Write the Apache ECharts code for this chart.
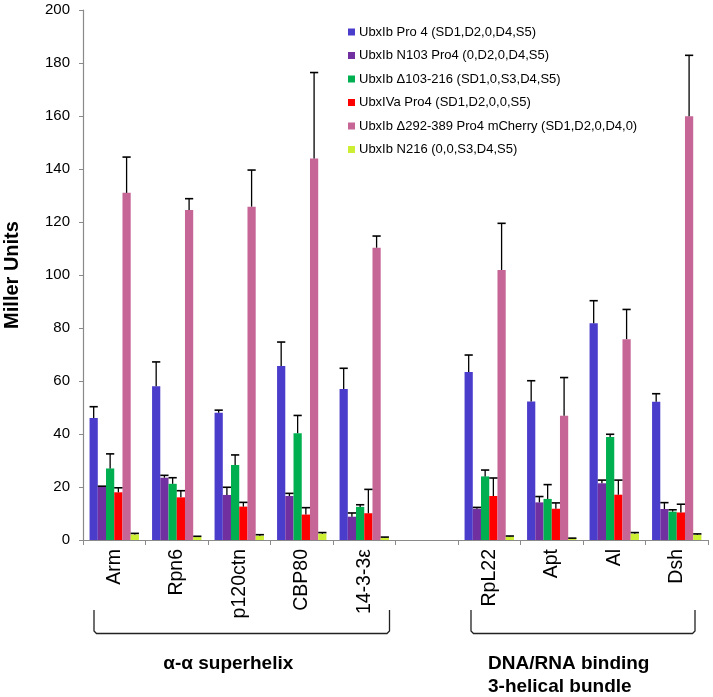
<!DOCTYPE html>
<html>
<head>
<meta charset="utf-8">
<script src="https://cdn.jsdelivr.net/npm/echarts@6/dist/echarts.min.js"></script>
<style>
html,body{margin:0;padding:0;background:#fff;}
#chart{width:713px;height:697px;}
</style>
</head>
<body>
<div id="chart"></div>
<script>
// ---- Data ----
const categories = ['Arm', 'Rpn6', 'p120ctn', 'CBP80', '14-3-3ε', '', 'RpL22', 'Apt', 'Al', 'Dsh'];
const seriesNames = [
  'UbxIb Pro 4 (SD1,D2,0,D4,S5)',
  'UbxIb N103 Pro4 (0,D2,0,D4,S5)',
  'UbxIb Δ103-216 (SD1,0,S3,D4,S5)',
  'UbxIVa Pro4 (SD1,D2,0,0,S5)',
  'UbxIb Δ292-389 Pro4 mCherry (SD1,D2,0,D4,0)',
  'UbxIb N216 (0,0,S3,D4,S5)'
];
const seriesColors = ['#4B3DCB', '#7030A0', '#00B050', '#FF0000', '#C66697', '#CCEE33'];

const pro4      = [46.0, 58.0, 48.0, 65.7, 57.0, null, 63.4, 52.3, 81.8, 52.2];
const n103      = [20.0, 23.5, 17.0, 16.6, 8.8, null, 11.8, 14.2, 21.4, 11.7];
const d103      = [27.0, 21.2, 28.3, 40.3, 12.5, null, 24.0, 15.5, 38.9, 10.7];
const ivaPro4   = [18.0, 16.1, 12.6, 9.6, 10.1, null, 16.6, 11.8, 17.1, 10.4];
const d292      = [131.0, 124.5, 125.8, 144.0, 110.3, null, 101.9, 46.9, 75.8, 159.9];
const n216      = [2.1, 1.1, 1.6, 2.4, 0.9, null, 1.3, 0.6, 2.4, 2.0];

const pro4Err    = [4.3, 9.2, 1.0, 9.0, 7.8, null, 6.4, 7.8, 8.5, 3.0];
const n103Err    = [0.3, 0.9, 2.9, 1.0, 1.4, null, 0.5, 2.2, 1.2, 2.4];
const d103Err    = [5.5, 2.3, 3.8, 6.7, 0.8, null, 2.4, 5.4, 1.0, 0.7];
const ivaPro4Err = [1.7, 2.5, 1.6, 2.6, 9.0, null, 6.8, 2.2, 5.5, 3.1];
const d292Err    = [13.5, 4.3, 13.8, 32.4, 4.4, null, 17.6, 14.4, 11.2, 23.0];
const n216Err    = [0.4, 0.3, 0.4, 0.4, 0.2, null, 0.2, 0.1, 0.4, 0.3];

const yTicks = { min: 0, max: 200, interval: 20 };
const groupLabels = ['α-α superhelix', 'DNA/RNA binding\n3-helical bundle'];

// ---- Chart ----
const values = [pro4, n103, d103, ivaPro4, d292, n216];
const errors = [pro4Err, n103Err, d103Err, ivaPro4Err, d292Err, n216Err];
const GAP = 0.21;
const FONT = '"Liberation Sans", Arial, sans-serif';

const errData = [];
values.forEach((arr, s) => {
  arr.forEach((v, c) => {
    if (v != null && errors[s][c] != null) errData.push([c, s, v, errors[s][c]]);
  });
});

const barSeries = values.map((arr, s) => ({
  name: seriesNames[s],
  type: 'bar',
  data: arr,
  barGap: '0%',
  barCategoryGap: (GAP * 100) + '%',
  itemStyle: { color: seriesColors[s] },
  emphasis: { disabled: true },
  z: 2
}));

const errSeries = {
  type: 'custom',
  name: 'err',
  data: errData,
  encode: { x: 0, y: 2 },
  z: 5,
  silent: true,
  renderItem: function (params, api) {
    const c = api.value(0), s = api.value(1), v = api.value(2), e = api.value(3);
    const base = api.coord([c, v]);
    const top = api.coord([c, v + e]);
    const band = api.size([1, 0])[0];
    const gw = band * (1 - GAP);
    const bw = gw / 6;
    const x = base[0] - gw / 2 + bw * (s + 0.5);
    const ch = bw / 2;
    return {
      type: 'group',
      children: [
        { type: 'line', shape: { x1: x, y1: base[1], x2: x, y2: top[1] }, style: { stroke: '#000', lineWidth: 1.3 } },
        { type: 'line', shape: { x1: x - ch, y1: top[1], x2: x + ch, y2: top[1] }, style: { stroke: '#000', lineWidth: 1.6 } }
      ]
    };
  }
};

const chart = echarts.init(document.getElementById('chart'), null, { renderer: 'canvas' });
chart.setOption({
  animation: false,
  backgroundColor: '#fff',
  textStyle: { fontFamily: FONT },
  grid: { left: 83, right: 5, top: 10, bottom: 157, containLabel: false, outerBoundsMode: 'none' },
  legend: {
    data: seriesNames,
    orient: 'vertical',
    left: 343,
    top: 20,
    itemWidth: 7,
    itemHeight: 7,
    itemGap: 9.5,
    icon: 'rect',
    textStyle: { fontSize: 13, color: '#000', fontFamily: FONT, lineHeight: 14, padding: [0, 0, 0, -1] },
    selectedMode: false
  },
  xAxis: {
    type: 'category',
    data: categories,
    boundaryGap: true,
    axisLine: { lineStyle: { color: '#8a8a8a', width: 1.2 } },
    axisTick: { show: true, length: 5, alignWithLabel: false, interval: 0, lineStyle: { color: '#8a8a8a' } },
    axisLabel: { interval: 0, rotate: 90, fontSize: 19.5, color: '#000', margin: 9, fontFamily: FONT }
  },
  yAxis: {
    type: 'value',
    min: yTicks.min,
    max: yTicks.max,
    interval: yTicks.interval,
    name: 'Miller Units',
    nameLocation: 'middle',
    nameGap: 61,
    nameRotate: 90,
    nameTextStyle: { fontSize: 20, fontWeight: 'bold', color: '#000', fontFamily: FONT },
    axisLine: { show: true, lineStyle: { color: '#8a8a8a', width: 1.2 } },
    axisTick: { show: true, length: 4, lineStyle: { color: '#8a8a8a' } },
    splitLine: { show: false },
    axisLabel: { fontSize: 15, color: '#000', margin: 13, fontFamily: FONT }
  },
  series: barSeries.concat([errSeries])
});

// ---- Group brackets and labels (positioned from the axis) ----
function catEdges(i) {
  const c = chart.convertToPixel({ xAxisIndex: 0 }, i);
  const band = chart.convertToPixel({ xAxisIndex: 0 }, 1) - chart.convertToPixel({ xAxisIndex: 0 }, 0);
  return [c - band / 2, c + band / 2, band];
}
const yBase = chart.convertToPixel({ yAxisIndex: 0 }, 0);
const bTop = yBase + 70, bBot = yBase + 93.5;
function bracket(x1, x2) {
  return {
    type: 'polyline',
    shape: { points: [[x1, bTop], [x1, bBot - 2.5], [x1 + 2.5, bBot], [x2 - 2.5, bBot], [x2, bBot - 2.5], [x2, bTop]] },
    style: { stroke: '#222', lineWidth: 1.3, fill: null }
  };
}
const L0 = catEdges(0), L4 = catEdges(4), R6 = catEdges(6), R9 = catEdges(9);
chart.setOption({
  graphic: [
    bracket(L0[0] + 11, L4[1] - 6),
    bracket(R6[0] + 13, R9[1] - 13),
    {
      type: 'text',
      x: (L0[0] + L4[1]) / 2 - 11, y: yBase + 124,
      style: { text: groupLabels[0], font: 'bold 19px ' + FONT, fill: '#000', textAlign: 'center', textVerticalAlign: 'middle' }
    },
    {
      type: 'text',
      x: R6[0] + 30, y: yBase + 112,
      style: { text: groupLabels[1], font: 'bold 19px ' + FONT, fill: '#000', textAlign: 'left', lineHeight: 23.5 }
    }
  ]
});
</script>
</body>
</html>
